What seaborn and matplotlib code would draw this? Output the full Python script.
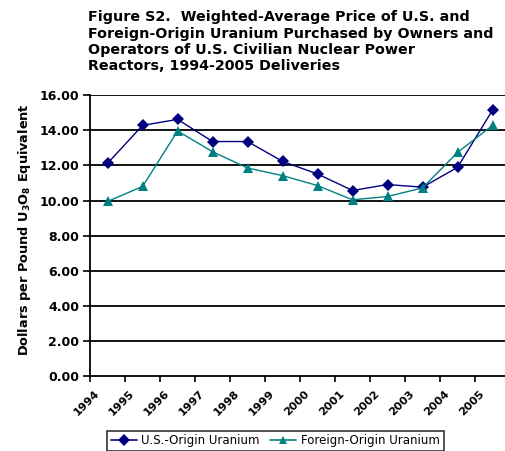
import pandas as pd
import matplotlib.pyplot as plt
from matplotlib.lines import Line2D
import seaborn as sns

# --- Data ---
years = [1994, 1995, 1996, 1997, 1998, 1999, 2000, 2001, 2002, 2003, 2004, 2005]
us_origin = [12.12, 14.28, 14.62, 13.36, 13.36, 12.23, 11.51, 10.57, 10.91, 10.76, 11.89, 15.15]
foreign_origin = [9.95, 10.80, 13.96, 12.78, 11.85, 11.42, 10.85, 10.04, 10.23, 10.72, 12.74, 14.28]
series_names = ['U.S.-Origin Uranium', 'Foreign-Origin Uranium']
y_ticks = [0, 2, 4, 6, 8, 10, 12, 14, 16]

df = pd.DataFrame({
    'year': years * 2,
    'price': us_origin + foreign_origin,
    'series': [series_names[0]] * len(years) + [series_names[1]] * len(years),
})

sns.set_theme(style='white')
plt.rcParams['font.family'] = ['DejaVu Sans']
plt.rcParams['text.color'] = 'black'
plt.rcParams['axes.labelcolor'] = 'black'
plt.rcParams['xtick.color'] = 'black'
plt.rcParams['ytick.color'] = 'black'

fig = plt.figure(figsize=(5.06, 4.51), dpi=100)
fig.patch.set_facecolor('white')
ax = fig.add_axes([0.178, 0.166, 0.830, 0.623])

palette = {series_names[0]: '#000080', series_names[1]: '#008080'}
markers = {series_names[0]: 'D', series_names[1]: '^'}
sns.lineplot(data=df, x='year', y='price', hue='series', style='series',
             palette=palette, markers=markers, dashes=False, ax=ax,
             linewidth=1.0, markersize=6.5, markeredgewidth=0, legend=False)

# gridlines (Excel-style black horizontal lines)
ax.set_ylim(0, 16)
ax.set_yticks(y_ticks)
ax.set_yticklabels([f'{v:.2f}' for v in y_ticks], fontsize=9, fontweight='bold')
for v in y_ticks[1:]:
    ax.axhline(v, color='black', linewidth=1.3, zorder=0)

# category labels sit left of each category centre, tick marks at the boundaries
ax.set_xlim(years[0] - 0.5, years[-1] + 0.5)
ax.set_xticks([y - 0.38 for y in years])
ax.set_xticklabels([str(y) for y in years], rotation=45, ha='right',
                   rotation_mode='anchor', fontsize=8, fontweight='bold')
ax.set_xticks([y - 0.5 for y in years] + [years[-1] + 0.5], minor=True)
ax.tick_params(axis='x', which='major', length=0, pad=9)
ax.tick_params(axis='x', which='minor', length=4, width=1.2, color='black', direction='out', bottom=True)
ax.tick_params(axis='y', length=5, width=1.2, color='black', direction='out', left=True, pad=3)

for side in ['top', 'right']:
    ax.spines[side].set_visible(False)
for side in ['left', 'bottom']:
    ax.spines[side].set_color('black')
    ax.spines[side].set_linewidth(1.3)

ax.set_xlabel('')
ax.set_ylabel(r'Dollars per Pound U$_\mathbf{3}$O$_\mathbf{8}$ Equivalent',
              fontsize=9.3, fontweight='bold', labelpad=6)
ax.yaxis.set_label_coords(-0.136, 0.52)

fig.text(0.174, 0.977,
         'Figure S2.  Weighted-Average Price of U.S. and\n'
         'Foreign-Origin Uranium Purchased by Owners and\n'
         'Operators of U.S. Civilian Nuclear Power\n'
         'Reactors, 1994-2005 Deliveries',
         ha='left', va='top', fontsize=10.3, fontweight='bold', linespacing=1.2)

# legend below the axis
handles = [Line2D([], [], color=palette[s], marker=markers[s], markersize=6,
                  markeredgewidth=0, linewidth=1.2) for s in series_names]
leg = fig.legend(handles, series_names, loc='upper left', bbox_to_anchor=(0.200, 0.058),
                 ncol=2, fontsize=8.5, frameon=True, fancybox=False, borderpad=0.3,
                 handlelength=2.2, columnspacing=0.9, handletextpad=0.4)
leg.get_frame().set_edgecolor('black')
leg.get_frame().set_linewidth(1.2)

fig.savefig('out.png', dpi=100, facecolor='white')
